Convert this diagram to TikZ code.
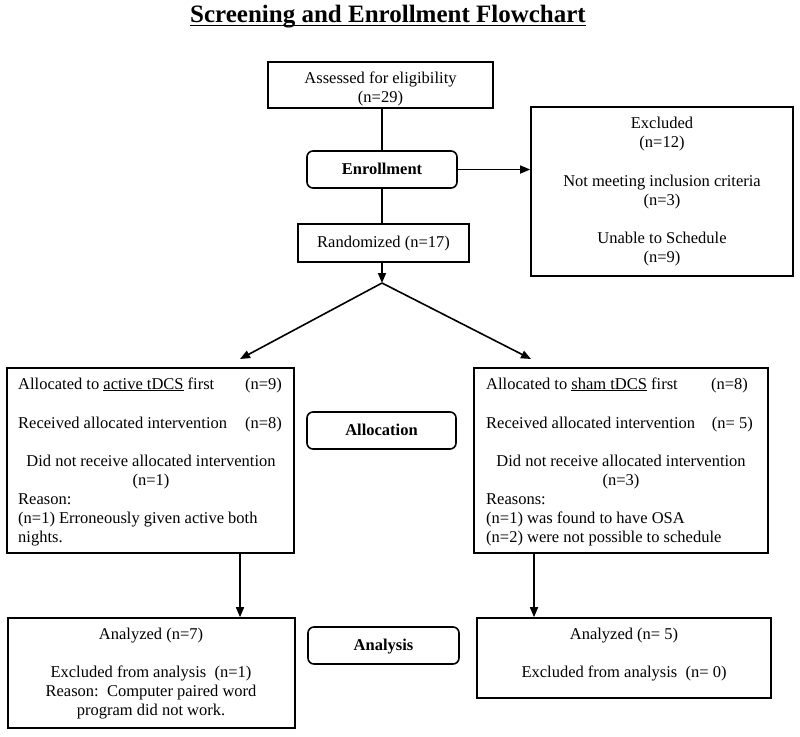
\documentclass[tikz,border=0pt]{standalone}
\usepackage{fontspec}
\setmainfont{Liberation Serif}
\usetikzlibrary{arrows.meta}
\begin{document}
\begin{tikzpicture}[x=1pt,y=-1pt,
  box/.style={draw, line width=1.6pt, rectangle, inner sep=0pt},
  rbox/.style={box, rounded corners=6pt},
  txt/.style={inner sep=0pt, anchor=base, font=\fontsize{16.5}{19}\selectfont},
  txtl/.style={txt, anchor=base west},
  txtr/.style={txt, anchor=base east},
  lbl/.style={txt, font=\fontsize{16.5}{19}\selectfont\bfseries},
  conn/.style={line width=1.6pt},
  arr/.style={conn, -{Triangle[length=10pt,width=8pt]}}
]
\useasboundingbox (0,0) rectangle (800,736);

% title
\node[inner sep=0pt, anchor=base, font=\fontsize{25}{30}\selectfont\bfseries] (title) at (388,22) {Screening and Enrollment Flowchart};
\draw[line width=1.6pt] ([yshift=-3.5pt]title.base west) -- ([yshift=-3.5pt]title.base east);

% boxes
\node[box, minimum width=225pt, minimum height=46pt] (assess) at (380.5,85) {};
\node[rbox, minimum width=150pt, minimum height=37pt] (enroll) at (382,169.5) {};
\node[box, minimum width=171pt, minimum height=38pt] (rand) at (383.5,243) {};
\node[box, minimum width=262pt, minimum height=169pt] (excl) at (662,191.5) {};
\node[box, minimum width=287pt, minimum height=185pt] (lalloc) at (150.5,460.5) {};
\node[rbox, minimum width=149pt, minimum height=37pt] (alloclab) at (381.5,430.5) {};
\node[box, minimum width=294pt, minimum height=185pt] (ralloc) at (621,460.5) {};
\node[box, minimum width=287pt, minimum height=110pt] (lana) at (151.5,673) {};
\node[rbox, minimum width=151pt, minimum height=37pt] (analab) at (383.5,645.5) {};
\node[box, minimum width=294pt, minimum height=80pt] (rana) at (624,658) {};

% connector points
\coordinate (apex) at (382,283);
\coordinate (tl) at (240,359);
\coordinate (tr) at (531,359);
\coordinate (bl) at (240,0);
\coordinate (br) at (534,0);

% connectors
\draw[conn] (enroll.north) -- (enroll.north |- assess.south);
\draw[conn] (enroll.south) -- (enroll.south |- rand.north);
\draw[arr] (rand.south -| apex) -- (apex);
\draw[arr] (apex) -- (tl);
\draw[arr] (apex) -- (tr);
\draw[arr] (enroll.east) -- (excl.west |- enroll.east);
\draw[arr] (bl |- lalloc.south) -- (bl |- lana.north);
\draw[arr] (br |- ralloc.south) -- (br |- rana.north);

% texts
\node[txt] (t1) at (380.5,83) {Assessed for eligibility};
\node[txt] (t2) at (380.5,102) {(n=29)};
\node[lbl] (t3) at (382,174) {Enrollment};
\node[txt] (t4) at (383.5,247) {Randomized (n=17)};

\node[txt] (e1) at (662,128) {Excluded};
\node[txt] (e2) at (662,147) {(n=12)};
\node[txt] (e3) at (662,186) {Not meeting inclusion criteria};
\node[txt] (e4) at (662,205) {(n=3)};
\node[txt] (e5) at (662,243) {Unable to Schedule};
\node[txt] (e6) at (662,262) {(n=9)};

\node[txtl] (l1) at (18,389) {Allocated to \underline{active tDCS} first};
\node[txtr] (l1n) at (282,389) {(n=9)};
\node[txtl] (l2) at (18,428) {Received allocated intervention};
\node[txtr] (l2n) at (282,428) {(n=8)};
\node[txt] (l3) at (151,466) {Did not receive allocated intervention};
\node[txt] (l4) at (151,485) {(n=1)};
\node[txtl] (l5) at (18,504) {Reason:};
\node[txtl] (l6) at (18,523) {(n=1) Erroneously given active both};
\node[txtl] (l7) at (18,542) {nights.};

\node[lbl] (a1) at (381.5,435.5) {Allocation};

\node[txtl] (r1) at (486,389) {Allocated to \underline{sham tDCS} first};
\node[txtr] (r1n) at (748,389) {(n=8)};
\node[txtl] (r2) at (486,428) {Received allocated intervention};
\node[txtr] (r2n) at (753,428) {(n=\ 5)};
\node[txt] (r3) at (621,466) {Did not receive allocated intervention};
\node[txt] (r4) at (621,485) {(n=3)};
\node[txtl] (r5) at (486,504) {Reasons:};
\node[txtl] (r6) at (486,523) {(n=1) was found to have OSA};
\node[txtl] (r7) at (486,542) {(n=2) were not possible to schedule};

\node[txt] (b1) at (151,639) {Analyzed (n=7)};
\node[txt] (b2) at (151,677) {Excluded from analysis\ \ (n=1)};
\node[txt] (b3) at (151,696) {Reason:\ \ Computer paired word};
\node[txt] (b4) at (151,715) {program did not work.};

\node[lbl] (a2) at (383.5,650.5) {Analysis};

\node[txt] (c1) at (624,639) {Analyzed (n=\ 5)};
\node[txt] (c2) at (624,677) {Excluded from analysis\ \ (n=\ 0)};
\end{tikzpicture}
\end{document}
